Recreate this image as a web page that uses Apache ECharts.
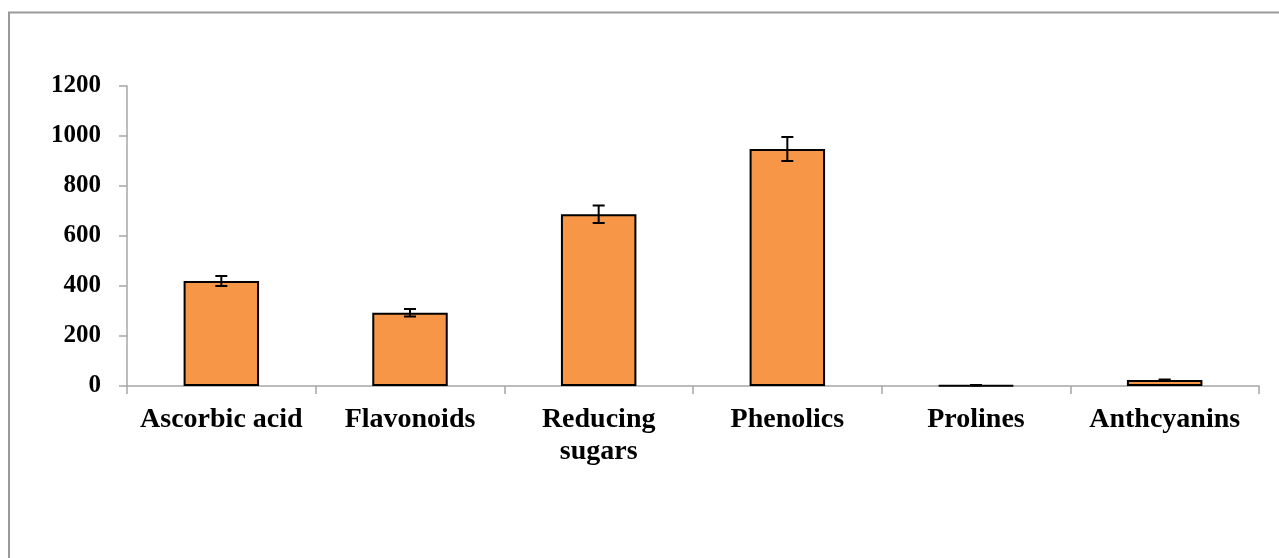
<!DOCTYPE html>
<html>
<head>
<meta charset="utf-8">
<script src="https://cdn.jsdelivr.net/npm/echarts@6/dist/echarts.min.js"></script>
<style>
html,body{margin:0;padding:0;background:#fff;}
#chart{width:1279px;height:558px;}
</style>
</head>
<body>
<div id="chart"></div>
<script>
var categories = ['Ascorbic acid', 'Flavonoids', 'Reducing\nsugars', 'Phenolics', 'Prolines', 'Anthcyanins'];
var values = [420, 293, 687, 948, 3, 24];
var errors = [20, 15, 35, 48, 1, 2];
var yTicks = { min: 0, max: 1200, interval: 200 };

var chart = echarts.init(document.getElementById('chart'));
var errData = values.map(function (v, i) { return [i, v - errors[i], v + errors[i]]; });

chart.setOption({
  animation: false,
  backgroundColor: '#fff',
  graphic: [{
    type: 'rect',
    shape: { x: 9, y: 12.5, width: 1400, height: 700 },
    style: { fill: 'none', stroke: '#999', lineWidth: 2 },
    silent: true,
    z: -10
  }],
  grid: { left: 127, right: 20, top: 86, bottom: 172, containLabel: false },
  xAxis: {
    type: 'category',
    data: categories,
    axisLine: { lineStyle: { color: '#a6a6a6', width: 1.5 } },
    axisTick: { show: true, length: 8, lineStyle: { color: '#a6a6a6', width: 1.5 } },
    axisLabel: {
      color: '#000', fontFamily: 'Liberation Serif', fontWeight: 'bold',
      fontSize: 28, lineHeight: 32, margin: 18, interval: 0
    }
  },
  yAxis: {
    type: 'value',
    min: yTicks.min, max: yTicks.max, interval: yTicks.interval,
    axisLine: { show: true, lineStyle: { color: '#a6a6a6', width: 1.5 } },
    axisTick: { show: true, length: 8, lineStyle: { color: '#a6a6a6', width: 1.5 } },
    splitLine: { show: false },
    axisLabel: {
      color: '#000', fontFamily: 'Liberation Serif', fontWeight: 'bold',
      fontSize: 25, margin: 26,
      formatter: function (v) { return String(v); }
    }
  },
  series: [{
    type: 'bar',
    data: values,
    barWidth: '40%',
    itemStyle: { color: '#F79646', borderColor: '#000', borderWidth: 2 },
    z: 2
  }, {
    type: 'custom',
    data: errData,
    z: 3,
    renderItem: function (params, api) {
      var x = api.value(0);
      var lo = api.coord([x, api.value(1)]);
      var hi = api.coord([x, api.value(2)]);
      var hw = 6;
      var st = { stroke: '#000', lineWidth: 2 };
      return {
        type: 'group',
        children: [
          { type: 'line', shape: { x1: hi[0], y1: hi[1], x2: lo[0], y2: lo[1] }, style: st },
          { type: 'line', shape: { x1: hi[0] - hw, y1: hi[1], x2: hi[0] + hw, y2: hi[1] }, style: st },
          { type: 'line', shape: { x1: lo[0] - hw, y1: lo[1], x2: lo[0] + hw, y2: lo[1] }, style: st }
        ]
      };
    }
  }]
});
</script>
</body>
</html>
